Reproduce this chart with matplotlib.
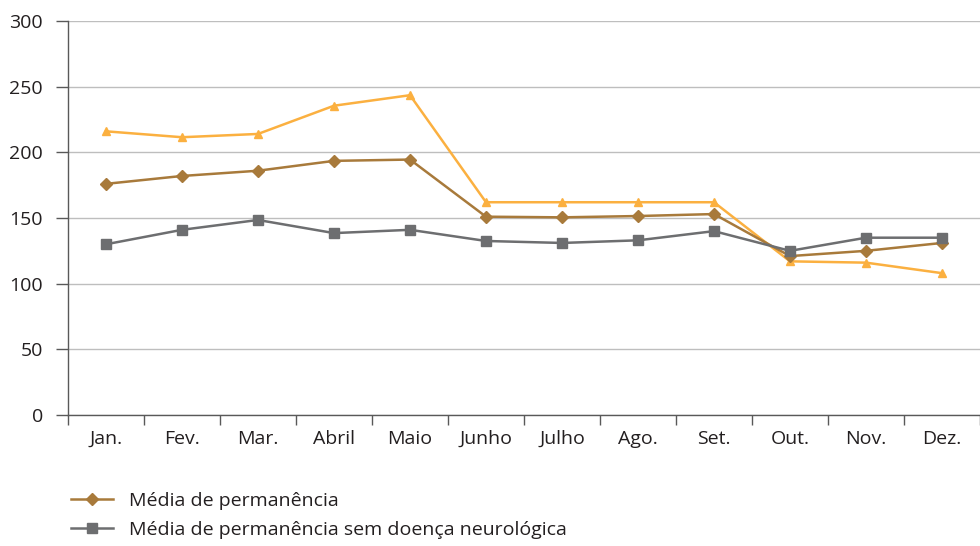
import matplotlib
matplotlib.use("Agg")
import matplotlib.pyplot as plt
import numpy as np

meses = ['Jan.', 'Fev.', 'Mar.', 'Abril', 'Maio', 'Junho', 'Julho', 'Ago.', 'Set.', 'Out.', 'Nov.', 'Dez.']
media_perm = [176, 182, 186, 193.5, 194.5, 151, 150.5, 151.5, 153, 121, 125, 131]
media_sem_neuro = [130, 141, 148.5, 138.5, 141, 132.5, 131, 133, 140, 125, 135, 135]
media_neuro = [216, 211.5, 214, 235.5, 243.5, 162, 162, 162, 162, 117, 116, 108]

plt.rcParams['font.family'] = ['Open Sans', 'DejaVu Sans']

fig = plt.figure(figsize=(9.8, 5.46), dpi=100)
ax = fig.add_axes([68 / 980, 131 / 546, 912 / 980, 394 / 546])

x = np.arange(len(meses))
ax.plot(x, media_neuro, color='#FBB040', lw=1.8, marker='^', ms=6, zorder=3)
ax.plot(x, media_perm, color='#A87A3B', lw=1.8, marker='D', ms=6.5,
        label='Média de permanência', zorder=4)
ax.plot(x, media_sem_neuro, color='#6D6E70', lw=1.8, marker='s', ms=6.5,
        label='Média de permanência sem doença neurológica', zorder=5)

ax.set_xlim(-0.5, len(meses) - 0.5)
ax.set_ylim(0, 300)
ax.set_yticks(range(0, 301, 50))
ax.set_xticks(x)
ax.set_xticklabels(meses)
ax.set_xticks(np.arange(-0.5, len(meses)), minor=True)
ax.tick_params(axis='x', which='major', length=0, pad=11, labelsize=14, colors='#231F20')
ax.tick_params(axis='x', which='minor', length=7, width=1, color='#595959', direction='out')
ax.tick_params(axis='y', length=9, width=1, color='#595959', labelsize=14, labelcolor='#231F20', pad=9)

ax.grid(axis='y', color='#BEBEBE', lw=1)
ax.set_axisbelow(True)
for s in ['top', 'right']:
    ax.spines[s].set_visible(False)
for s in ['left', 'bottom']:
    ax.spines[s].set_color('#595959')
    ax.spines[s].set_linewidth(1)

fig.legend(loc='upper left', bbox_to_anchor=(53 / 980, 1 - 474 / 546), frameon=False,
           fontsize=14, handlelength=2.2, handletextpad=0.8, labelspacing=0.6,
           labelcolor='#231F20')

fig.savefig('out.png', dpi=100)
